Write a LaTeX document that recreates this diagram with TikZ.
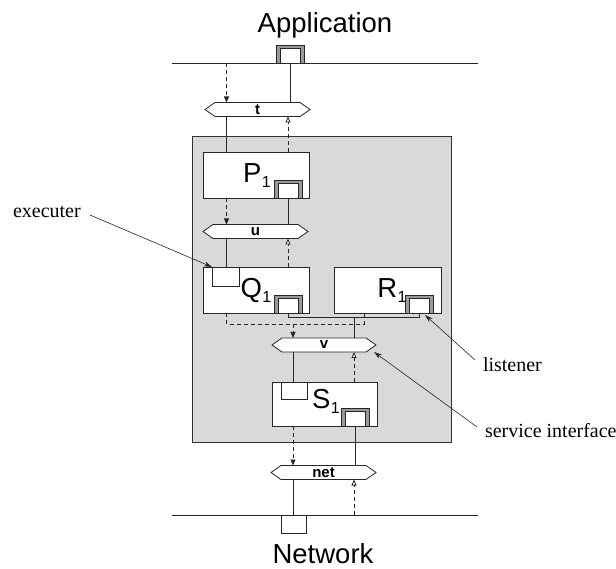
\documentclass[tikz,border=0pt]{standalone}
\usepackage{fontspec}
\setmainfont{Liberation Serif}
\setsansfont{Liberation Sans}
\usetikzlibrary{arrows.meta}

% channel: name, centre x, centre y, half width between corners, text
\newcommand\channel[5]{%
  \filldraw[fill=white] (#2-#4-10,#3) -- (#2-#4,#3-7) -- (#2+#4,#3-7)
    -- (#2+#4+10,#3) -- (#2+#4,#3+7) -- (#2-#4,#3+7) -- cycle;
  \node[chanlabel] (#1) at (#2,#3) {#5};%
}
% module label with a lowered index
\newcommand\modname[2]{#1\kern0.5pt\raisebox{-5pt}{\fontsize{16}{16}\selectfont #2}}

\begin{document}
\begin{tikzpicture}[x=1pt,y=-1pt,
  line width=0.8pt, draw=black!85,
  every node/.style={inner sep=0pt, outer sep=0pt},
  hostbox/.style={draw=black!80, fill=gray!30, anchor=north west},
  module/.style={draw, fill=white, anchor=north west},
  modlabel/.style={anchor=base, font=\sffamily\fontsize{27.5}{30}\selectfont},
  execbox/.style={draw, fill=white, anchor=north west},
  portframe/.style={draw, fill=gray!80, minimum width=28, minimum height=18, anchor=south},
  porthole/.style={draw, fill=white, minimum width=20, minimum height=14.5, anchor=south},
  chanlabel/.style={minimum height=14, font=\sffamily\bfseries\fontsize{15}{16}\selectfont},
  title/.style={anchor=base, font=\sffamily\fontsize{27.5}{30}\selectfont},
  note/.style={anchor=base west, font=\fontsize{20}{24}\selectfont},
  flow/.style={dash pattern=on 4pt off 3pt},
  down/.style={flow, -{Triangle[length=6pt,width=5pt]}},
  up/.style={flow, -{Triangle[open,length=6pt,width=5pt,fill=white]}},
  callout/.style={line width=0.6pt, -{Stealth[length=8pt,width=5pt]}}]

\useasboundingbox (0,0) rectangle (616,569);

% host containing the protocol modules
\node[hostbox, minimum width=259, minimum height=306] (host) at (192,136) {};

% connector columns
\coordinate (cA) at (226.5,0);
\coordinate (cB) at (288,0);
\coordinate (cC) at (293,0);
\coordinate (cD) at (354,0);
\coordinate (cR) at (364,0);
\coordinate (dashjoin) at (0,324);
\coordinate (sigjoin) at (0,317);

% application layer
\coordinate (appL) at (172,63);
\coordinate (appR) at (478,63);
\draw (appL) -- (appR);
\node[portframe] (appport) at (290,63) {};
\node[porthole] (apphole) at (appport.south) {};
\node[title] (apptext) at (325,33) {Application};

% network layer
\coordinate (netL) at (172,515);
\coordinate (netR) at (478,515);
\draw (netL) -- (netR);
\node[draw, fill=white, minimum width=25, minimum height=18, anchor=north] (netport) at (293.5,515) {};
\node[title] (nettext) at (323,563) {Network};

% modules
\node[module, minimum width=106, minimum height=46] (P1) at (203,152) {};
\node[modlabel] (P1name) at (257,183) {\modname{P}{1}};
\node[portframe] (P1port) at (288,198) {};
\node[porthole] (P1hole) at (P1port.south) {};

\node[module, minimum width=106, minimum height=46] (Q1) at (203,267) {};
\node[execbox, minimum width=27, minimum height=19] (Q1exec) at (212,267) {};
\node[modlabel] (Q1name) at (256,298) {\modname{Q}{1}};
\node[portframe] (Q1port) at (288,313) {};
\node[porthole] (Q1hole) at (Q1port.south) {};

\node[module, minimum width=107, minimum height=46] (R1) at (334,267) {};
\node[modlabel] (R1name) at (392,298) {\modname{R}{1}};
\node[portframe] (R1port) at (419,313) {};
\node[porthole] (R1hole) at (R1port.south) {};

\node[module, minimum width=105, minimum height=44] (S1) at (272,382) {};
\node[execbox, minimum width=26, minimum height=17] (S1exec) at (281,382) {};
\node[modlabel] (S1name) at (326,408) {\modname{S}{1}};
\node[portframe] (S1port) at (355,426) {};
\node[porthole] (S1hole) at (S1port.south) {};

% service interfaces
\channel{chT}{257.5}{109.5}{42.5}{t}
\channel{chU}{255.5}{231.5}{42.5}{u}
\channel{chV}{324}{345}{42}{v}
\channel{chNet}{323.5}{472.5}{42.5}{net}

% application <-> t
\draw[down] (appL -| cA) -- (chT.north -| cA);
\draw (appport.south) -- (chT.north -| appport);
% t <-> P1
\draw (chT.south -| cA) -- (P1.north -| cA);
\draw[up] (P1.north -| cB) -- (chT.south -| cB);
% P1 <-> u
\draw[down] (P1.south -| cA) -- (chU.north -| cA);
\draw (P1port.south) -- (chU.north -| P1port);
% u <-> Q1
\draw (chU.south -| cA) -- (Q1.north -| cA);
\draw[up] (Q1.north -| cB) -- (chU.south -| cB);
% Q1, R1 <-> v
\draw[flow] (Q1.south -| cA) |- (dashjoin -| cR) -- (R1.south -| cR);
\draw[down] (dashjoin -| cC) -- (chV.north -| cC);
\draw (Q1port.south) |- (sigjoin -| R1port) -- (R1port.south);
\draw (sigjoin -| cD) -- (chV.north -| cD);
% v <-> S1
\draw (chV.south -| cC) -- (S1.north -| cC);
\draw[up] (S1.north -| cD) -- (chV.south -| cD);
% S1 <-> net
\draw[down] (S1.south -| cC) -- (chNet.north -| cC);
\draw (S1port.south) -- (chNet.north -| S1port);
% net <-> network
\draw (chNet.south -| cC) -- (netL -| cC);
\draw[up] (netL -| cD) -- (chNet.south -| cD);

% callouts
\node[note] (exectext) at (13,218) {executer};
\coordinate (execfrom) at (90,215);
\draw[callout] (execfrom) -- (Q1exec.north west);

\node[note] (listtext) at (483,372) {listener};
\coordinate (listfrom) at (475,360);
\coordinate (listtip) at (425,315);
\draw[callout] (listfrom) -- (listtip);

\node[note] (sitext) at (485,437) {service interface};
\coordinate (sifrom) at (477,427);
\coordinate (sitip) at (374,352);
\draw[callout] (sifrom) -- (sitip);
\end{tikzpicture}
\end{document}
